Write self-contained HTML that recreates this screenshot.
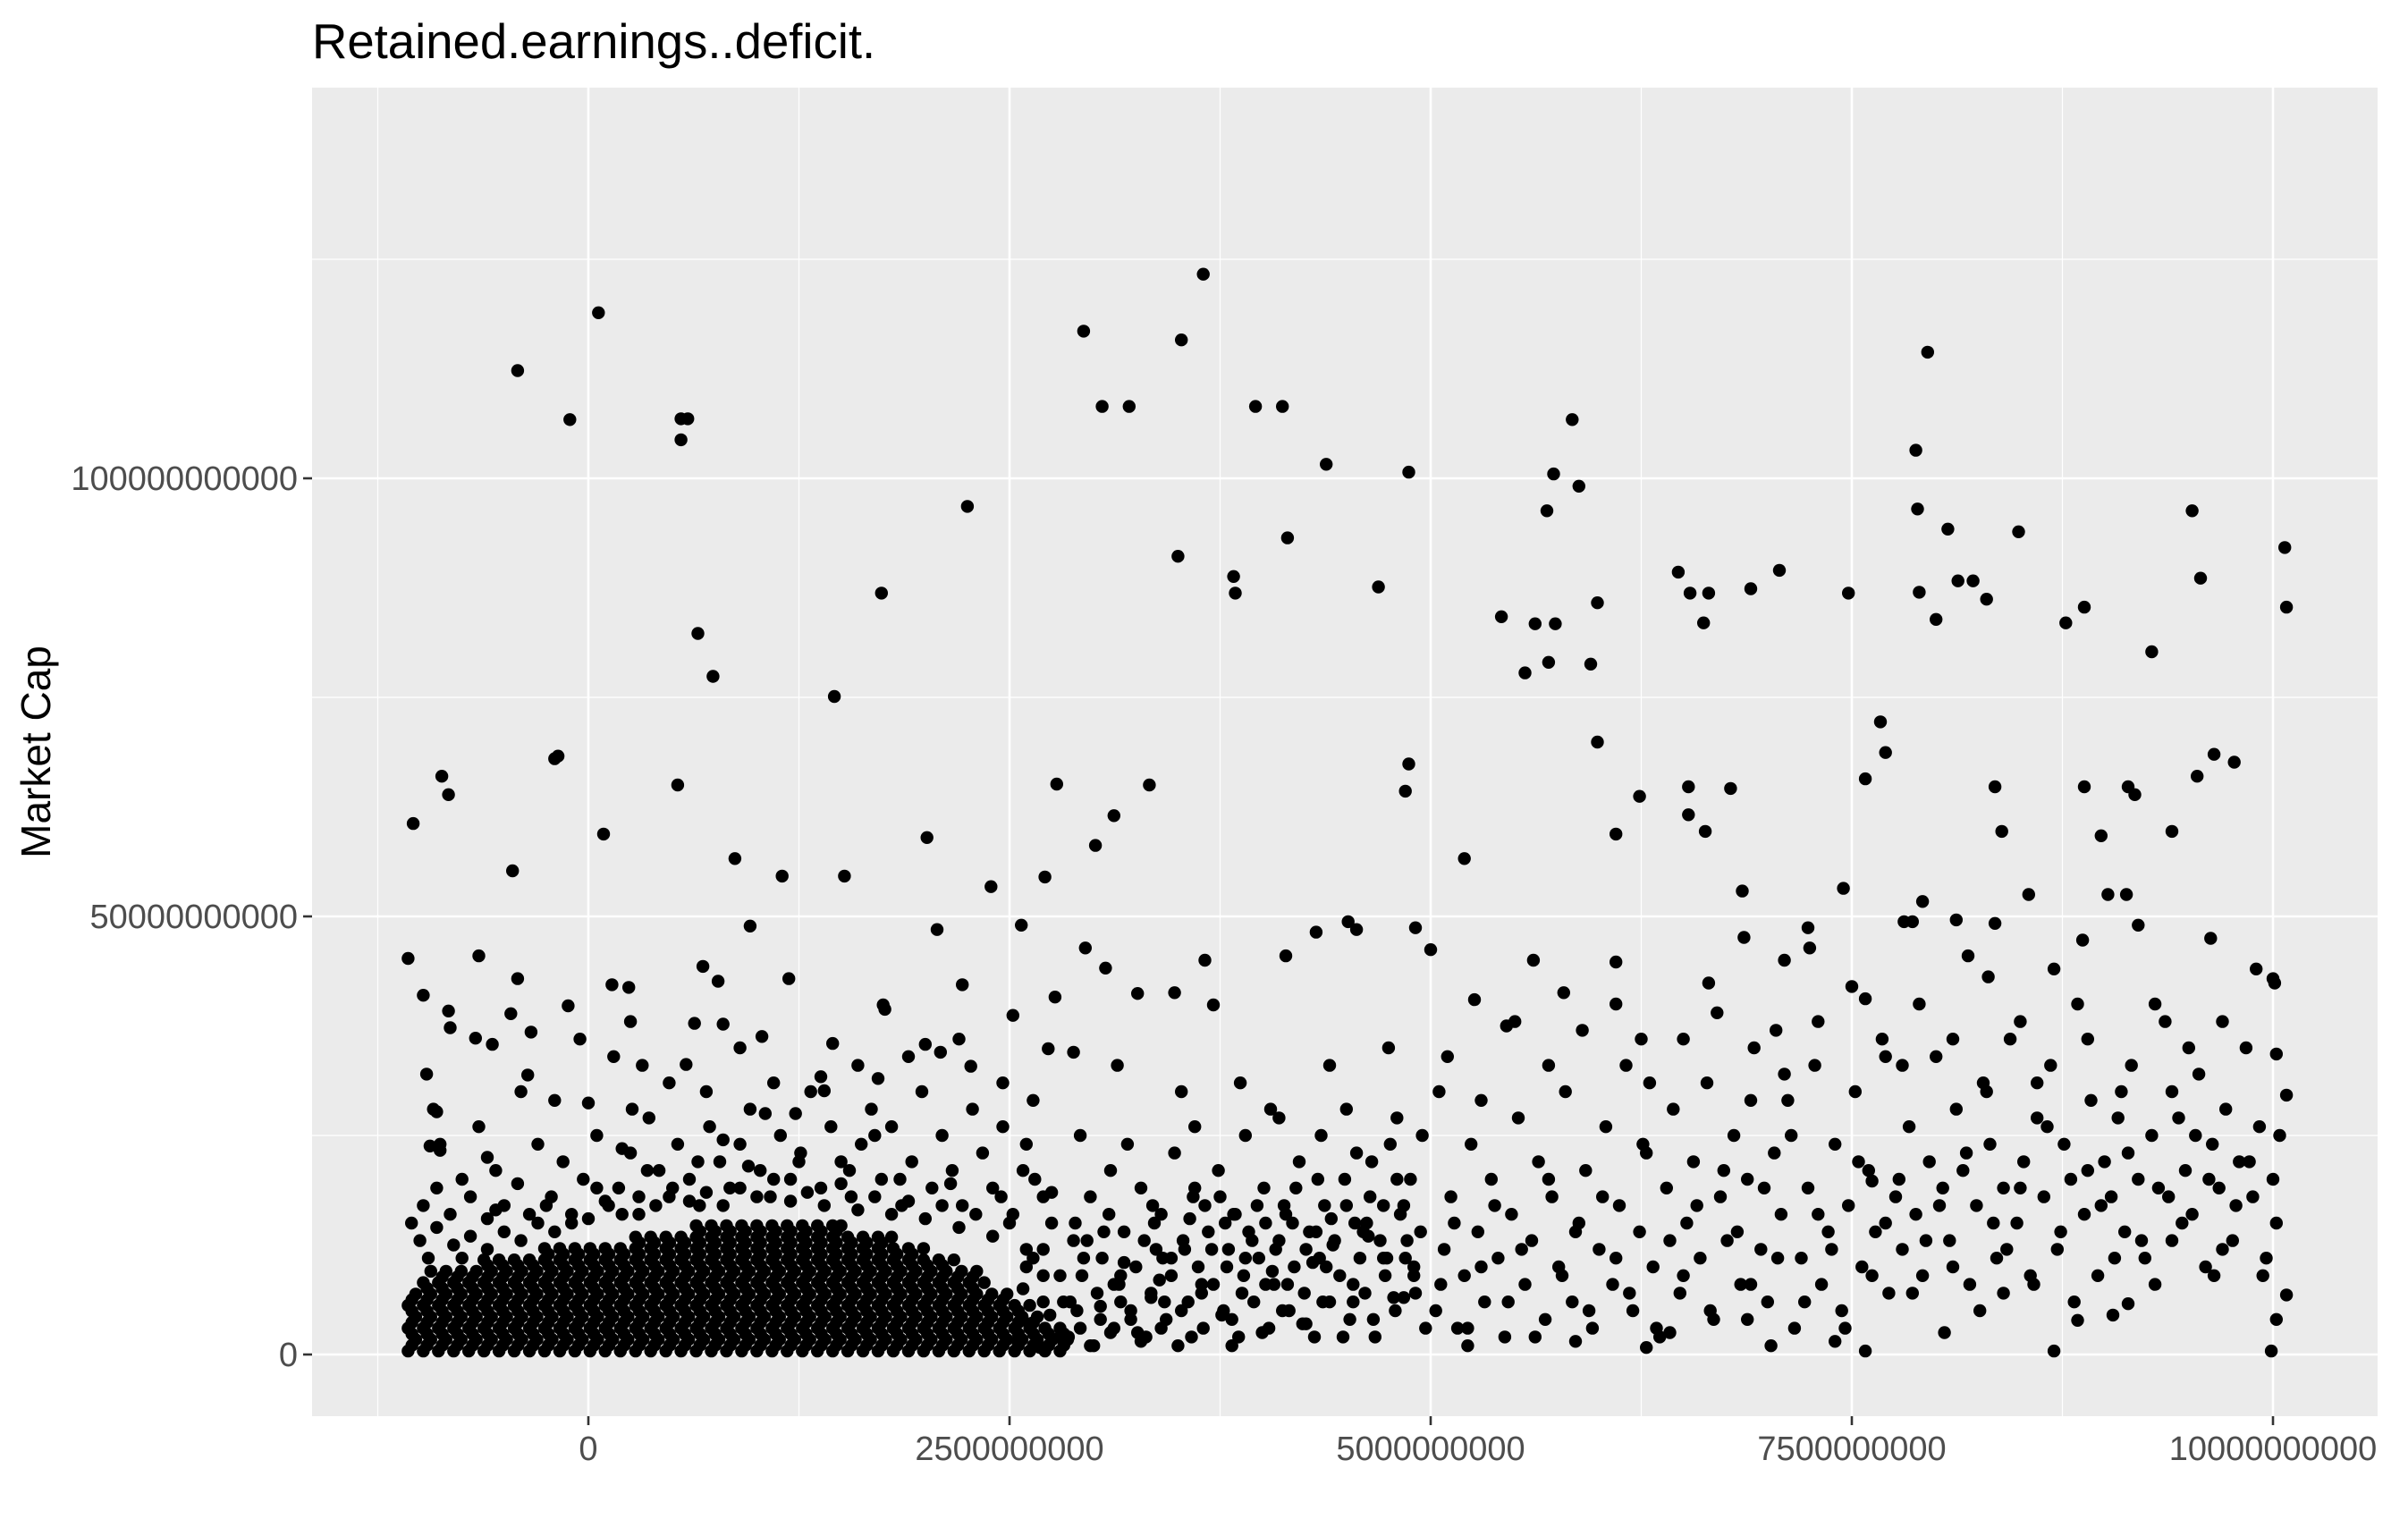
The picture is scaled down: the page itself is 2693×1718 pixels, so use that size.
<!DOCTYPE html>
<html>
<head>
<meta charset="utf-8">
<style>
html,body{margin:0;padding:0;background:#fff;}
svg{display:block;}
text{font-family:"Liberation Sans",Arial,sans-serif;}
</style>
</head>
<body>
<svg id="chart" width="2693" height="1718" viewBox="0 0 2693 1718" xmlns="http://www.w3.org/2000/svg">
  <rect x="0" y="0" width="2693" height="1718" fill="#ffffff"/>
  <text x="349" y="65" font-size="54.5" fill="#000">Retained.earnings..deficit.</text>
  <rect x="349" y="98" width="2310" height="1486" fill="#EBEBEB"/>
  <g id="grid"></g>
  <g id="points"></g>
  <g id="axes"></g>
  <text x="0" y="0" font-size="46" fill="#000" text-anchor="middle" transform="translate(56,841) rotate(-90)">Market Cap</text>
</svg>
<script>
// Values: retained earnings in units of 1e8, market cap in units of 1e9
const xTickValues = [0, 25, 50, 75, 100];
const xTickLabels = ["0", "2500000000", "5000000000", "7500000000", "10000000000"];
const xMinorValues = [-12.5, 12.5, 37.5, 62.5, 87.5];
const yTickValues = [0, 50, 100];
const yTickLabels = ["0", "50000000000", "100000000000"];
const yMinorValues = [25, 75, 125];

// Dense cluster rows (market cap level per row and retained earnings along row)
const denseRowY = [0.4, 1.7, 3.0, 4.3, 5.6, 6.9, 8.2, 9.5, 10.8, 12.1, 13.4, 14.7];
const denseRowX = [
 [-10.7,-9.8,-8.9,-8,-7.1,-6.2,-5.3,-4.4,-3.5,-2.6,-1.7,-0.8,0.1,1,1.9,2.8,3.7,4.6,5.5,6.4,7.3,8.2,9.1,10,10.9,11.8,12.7,13.6,14.5,15.4,16.3,17.2,18.1,19,19.9,20.8,21.7,22.6,23.5,24.4,25.3,26.2,27.1,28],
 [-10.25,-9.35,-8.45,-7.55,-6.65,-5.75,-4.85,-3.95,-3.05,-2.15,-1.25,-0.35,0.55,1.45,2.35,3.25,4.15,5.05,5.95,6.85,7.75,8.65,9.55,10.45,11.35,12.25,13.15,14.05,14.95,15.85,16.75,17.65,18.55,19.45,20.35,21.25,22.15,23.05,23.95,24.85,25.75,26.65,27.55,28.45],
 [-10.7,-9.8,-8.9,-8,-7.1,-6.2,-5.3,-4.4,-3.5,-2.6,-1.7,-0.8,0.1,1,1.9,2.8,3.7,4.6,5.5,6.4,7.3,8.2,9.1,10,10.9,11.8,12.7,13.6,14.5,15.4,16.3,17.2,18.1,19,19.9,20.8,21.7,22.6,23.5,24.4,25.3,26.2,27.1,28],
 [-10.25,-9.35,-8.45,-7.55,-6.65,-5.75,-4.85,-3.95,-3.05,-2.15,-1.25,-0.35,0.55,1.45,2.35,3.25,4.15,5.05,5.95,6.85,7.75,8.65,9.55,10.45,11.35,12.25,13.15,14.05,14.95,15.85,16.75,17.65,18.55,19.45,20.35,21.25,22.15,23.05,23.95,24.85,25.75,26.65],
 [-10.7,-9.8,-8.9,-8,-7.1,-6.2,-5.3,-4.4,-3.5,-2.6,-1.7,-0.8,0.1,1,1.9,2.8,3.7,4.6,5.5,6.4,7.3,8.2,9.1,10,10.9,11.8,12.7,13.6,14.5,15.4,16.3,17.2,18.1,19,19.9,20.8,21.7,22.6,23.5,24.4,25.3,26.2],
 [-10.25,-9.35,-8.45,-7.55,-6.65,-5.75,-4.85,-3.95,-3.05,-2.15,-1.25,-0.35,0.55,1.45,2.35,3.25,4.15,5.05,5.95,6.85,7.75,8.65,9.55,10.45,11.35,12.25,13.15,14.05,14.95,15.85,16.75,17.65,18.55,19.45,20.35,21.25,22.15,23.05,23.95,24.85],
 [-9.8,-8.9,-8,-7.1,-6.2,-5.3,-4.4,-3.5,-2.6,-1.7,-0.8,0.1,1,1.9,2.8,3.7,4.6,5.5,6.4,7.3,8.2,9.1,10,10.9,11.8,12.7,13.6,14.5,15.4,16.3,17.2,18.1,19,19.9,20.8,21.7,22.6,23.5],
 [-9.35,-8.45,-7.55,-6.65,-5.75,-4.85,-3.95,-3.05,-2.15,-1.25,-0.35,0.55,1.45,2.35,3.25,4.15,5.05,5.95,6.85,7.75,8.65,9.55,10.45,11.35,12.25,13.15,14.05,14.95,15.85,16.75,17.65,18.55,19.45,20.35,21.25,22.15,23.05],
 [-6.2,-5.3,-4.4,-3.5,-2.6,-1.7,-0.8,0.1,1,1.9,2.8,3.7,4.6,5.5,6.4,7.3,8.2,9.1,10,10.9,11.8,12.7,13.6,14.5,15.4,16.3,17.2,18.1,19,19.9,20.8,21.7],
 [-2.6,-1.7,-0.8,0.1,1,1.9,2.8,3.7,4.6,5.5,6.4,7.3,8.2,9.1,10,10.9,11.8,12.7,13.6,14.5,15.4,16.3,17.2,18.1,19,19.9],
 [2.8,3.7,4.6,5.5,6.4,7.3,8.2,9.1,10,10.9,11.8,12.7,13.6,14.5,15.4,16.3,17.2,18],
 [6.4,7.3,8.2,9.1,10,10.9,11.8,12.7,13.6,14.5,15]
];
// In-between rows of the dense cluster
const midRowY = [1.05, 2.35, 3.65, 4.95, 6.25, 7.55, 8.85, 10.15, 11.45, 12.75, 14.05];
const midRowX = [-10.475,-9.575,-8.675,-7.775,-6.875,-5.975,-5.075,-4.175,-3.275,-2.375,-1.475,-0.575,0.325,1.225,2.125,3.025,3.925,4.825,5.725,6.625,7.525,8.425,9.325,10.225,11.125,12.025,12.925,13.825,14.725,15.625,16.525,17.425,18.325,19.225,20.125,21.025,21.925,22.825,23.725,24.625,25.525,26.425,27.325,28.225];
const midRowXMin = [-10.5,-10.5,-10.5,-10.5,-10.5,-10,-9.5,-6.3,-2.7,2.7,6.3];
const midRowXMax = [28.3,28.3,26.7,26.3,25,23.6,23.1,21.8,20,18.1,15.1];

// Individual scattered companies
const retainedEarnings = [
-10.7,-10.4,-9.8,-8.7,-8.3,-8.3,-8.2,-9.6,-9.0,-9.4,-8.8,-6.5,-6.7,-5.7,-4.5,-4.2,-4.6,-4.2,-3.4,-3.6,-2,-1.8,-1.1,-1.2,0.6,0.9,0,1.4,2.4,2.5,5.3,5.5,5.9,5.5,6.5,7.4,6.8,7.7,6.3,5.8,8.0,8.7,9.6,10.3,11.5,11.9,10.5,14.6,15.2,13.8,14,17.4,17.5,17.6,17.2,20.1,20.7,20,20.9,22.2,22.5,22.7,23.9,25.2,25.7,27.1,27.8,27.7,27.3,28.8,29.4,29.5,30.1,30.5,30.7,31.2,32.1,32.6,33.3,34.8,35,35.2,36.5,36.6,37.1,38.3,38.4,39.6,41.2,41.5,41.4,43.2,43.8,45.1,45.6,46.9,48.7,48.7,48.5,49.1,50,52,52.6,54.2,55.6,56.2,56.1,56.9,57.3,57.4,57.9,58.4,58.8,57,59.5,59.9,59.9,61,61,62.4,64.7,65.4,65.3,65.3,66.3,66.5,66.2,66.5,67.8,68.5,69,70.7,68.6,71,72.4,72.5,74.8,74.5,75.8,76.7,77,75.8,76.2,75.8,78.1,78.6,78.9,79.5,79,78.8,79.2,80,80.7,81.3,82.2,81.2,81.9,83,83.5,83.9,83.5,83.1,84.9,85.5,87.7,88.8,88.8,88.7,89.8,90.2,91.3,91.4,91.8,92,92.8,94,95.2,95.7,95.5,96.3,96.5,97.7,100.7,100.8,100,100.1,100.8,100.2,100.8,99.9,87,88.4,91.4,
-10.5,-9.8,-9,-8.2,-7.5,-7,-6,-5.5,-5,-4.2,-3.5,-3,-2.2,-1.5,-1,-0.3,0.5,1.2,1.8,2.5,3,3.6,4.2,4.8,5.3,6,6.6,7.2,7.8,8.4,9,9.6,10.2,10.8,11.4,12,12.6,13.2,13.8,14.4,15,15.6,16.2,16.8,17.4,18,18.6,19.2,19.8,20.4,21,21.6,22.2,22.8,23.4,24,24.6,25.2,25.8,26.4,27,3.2,7,11,16,-2,-6.5,-8.8,1.5,9,14.5,24.6,-0.5,2.6,19,-4,4.8,12.3,22,-9.2,
28.5,29,29.3,29.6,30,30.2,30.5,30.9,31.2,31.5,31.8,32.2,32.5,32.8,33.1,33.4,33.7,34,34.3,34.6,35,35.3,35.6,35.9,36.2,36.5,36.8,37.1,37.4,37.7,38,38.3,38.6,38.9,39.2,39.5,39.8,40.1,40.4,40.7,41,41.3,41.6,41.9,42.2,42.5,42.8,43.1,43.4,43.7,44,44.3,44.6,44.9,45.2,45.5,45.8,46.1,46.4,46.7,47,47.3,47.6,47.9,48.2,48.5,48.8,49.1,49.4,49.7,29.8,31,32,33.5,34.8,36,37.5,39,40.5,42,43.5,45,46.5,48,49.5,30.4,32.6,34.1,36.4,38.2,40.2,42.6,44.1,46.3,48.4,28.9,31.6,33.9,35.7,37.9,39.7,41.5,43.3,45.4,47.2,49,29.2,35.2,38.7,44,47.5,50.5,31.4,41,26,27,27.5,26.5,
50.3,50.8,51.2,51.6,52,52.4,52.8,53.2,53.6,54,54.4,54.8,55.2,55.6,56,56.4,56.8,57.2,57.6,58,58.4,58.8,59.2,59.6,60,60.4,60.8,61.2,61.6,62,62.4,62.8,63.2,63.6,64,64.4,64.8,65.2,65.6,66,66.4,66.8,67.2,67.6,68,68.4,68.8,69.2,69.6,70,70.4,70.8,71.2,71.6,72,72.4,72.8,73.2,73.6,74,74.4,74.8,75.2,75.6,76,76.4,76.8,77.2,77.6,78,78.4,78.8,79.2,79.6,80,80.4,80.8,81.2,81.6,82,82.4,82.8,83.2,83.6,84,84.4,84.8,85.2,85.6,86,86.4,86.8,87.2,87.6,88,88.4,88.8,89.2,89.6,90,90.4,90.8,91.2,91.6,92,92.4,92.8,93.2,93.6,94,94.4,94.8,95.2,95.6,96,96.4,96.8,97.2,97.6,98,98.4,98.8,99.2,99.6,100,100.4,51,53,55,57,59,61,63,65,67,69,71,73,75,77,79,81,83,85,87,89,91,93,95,97,99,54.5,62.5,70.5,78,86,94,52.2,58.6,64.2,70.2,62.8,68.8,74,80.5,84,90.5,96.5,100.2,
-10,-9,-8,-7,-6,-5,-4,-3,-2,-1,0,1,2,3,4,5,6,7,8,9,10,11,12,13,14,15,16,17,18,19,20,21,22,23,24,25,26,27,28,-9.5,-7.5,-5.5,-2.5,0.5,3.5,6.5,9.5,12.5,15.5,18.5,21.5,24.5,27.5,26,-6,2,8,17,
25.5,26.2,26.8,27.4,28,28.6,29.2,29.8,30.4,31,31.6,32.2,32.8,33.4,34,34.6,35.2,35.8,36.4,37,37.6,38.2,38.8,39.4,40,40.6,41.2,41.8,42.4,43,43.6,44.2,44.8,45.4,46,46.6,47.2,47.8,48.4,49,25.8,27,28.2,29.4,30.6,31.8,33,34.2,35.4,36.6,37.8,39,40.2,41.4,42.6,43.8,45,46.2,47.4,48.6,26.4,28.8,31.2,33.6,36,38.4,40.8,43.2,45.6,48,
50.6,51.4,52.2,53,53.8,54.6,55.4,56.2,57,57.8,58.6,59.4,60.2,61,61.8,62.6,63.4,64.2,65,65.8,66.6,67.4,68.2,69,69.8,70.6,71.4,72.2,73,73.8,74.6,75.4,76.2,77,77.8,78.6,79.4,80.2,81,81.8,82.6,83.4,84.2,85,85.8,86.6,87.4,88.2,89,89.8,90.6,91.4,92.2,93,93.8,94.6,95.4,96.2,97,97.8,98.6,99.4,100.2
];
const marketCap = [
45.2,60.6,41,66,63.9,39.2,37.3,32,27.7,23.8,23.3,45.5,36.1,35.4,55.2,112.3,38.9,42.9,36.8,31.9,68,68.3,106.7,39.8,118.9,59.4,28.7,42.2,41.9,38,65,106.8,106.8,104.4,82.3,77.4,44.3,42.6,37.8,33.1,37.7,56.6,48.9,36.3,54.6,42.9,27.5,75.1,54.6,31.7,30.1,86.9,39.9,39.4,31.5,59,48.5,35.4,34.5,42.2,96.8,32.9,53.4,38.7,49,54.5,65.1,40.8,34.9,34.5,116.8,46.4,58.1,108.2,44.1,61.5,108.2,41.2,65,41.3,91.1,115.8,123.3,45,39.9,88.8,86.9,108.2,108.2,93.2,45.5,48.2,101.6,49.4,48.5,87.6,100.7,67.4,64.3,48.7,46.2,56.6,40.5,84.2,77.8,83.4,45,96.3,100.5,83.4,41.3,106.7,99.1,79,78.8,85.8,69.9,59.4,44.8,63.7,89.3,86.9,64.8,61.6,59.7,86.9,83.5,42.4,64.6,52.9,87.4,89.5,47.6,45,48.7,46.4,86.9,53.2,65.7,72.2,68.7,0.4,19.8,40.6,49.4,49.4,96.5,114.4,87,103.2,51.7,83.9,94.2,88.3,88.3,49.6,45.5,86.2,64.8,59.7,49.2,43.1,93.9,52.5,83.5,85.3,64.8,47.3,59.2,52.5,52.5,64.8,63.9,49,80.2,59.7,96.3,88.6,66,47.5,68.5,67.6,92.1,85.3,42.9,42.4,29.6,34.3,6.8,0.4,0.4,3.9,5.8,
15,17,19,16,20,18,15.5,21,17,19.5,16,24,18,22,15,20,25,17,19,23,16,27,21,18,24,20,17,26,22,19,24,28,21,18,25,20,23,30,19,26,22,18,24,28,20,26,17,22,30,19,25,21,17,28,23,19,26,16,21,29,18,33,30,31,33,29,26,24,34,35,35.5,31,36,28,34,30,31,27.5,36,28,
2,5,9,13,1,7,11,16,3,8,14,5,10,19,2,7,12,16,4,9,1,13,6,18,10,3,14,8,21,5,12,16,2,9,14,6,11,19,3,8,13,17,5,10,22,7,14,2,11,17,6,13,9,20,4,15,11,7,18,2,13,9,24,5,16,11,20,7,14,3,18,21,24,17,23,26,18,25,28,19,25,28,22,27,25,4,2.5,11,7,4,15,3.5,15.5,13.5,6.5,15,6,8.5,15.5,10,17,8,20,6,17,10,25,30,31,33,35,30,33,27,12,6,15,20,
5,12,18,3,9,24,14,6,20,11,2,16,27,8,13,22,4,18,10,30,6,15,21,3,12,26,8,17,33,5,14,23,10,2,19,28,7,15,22,11,31,4,18,13,25,8,20,35,12,6,23,16,29,3,11,19,33,8,14,24,5,17,30,10,21,14,36,7,18,12,26,16,9,22,34,19,13,28,21,8,17,31,24,11,19,36,15,22,9,27,18,33,12,24,20,40,16,29,9,22,18,27,14,33,20,11,25,19,38,13,27,21,16,32,10,24,19,28,13,22,35,18,26,11,20,25,34,29,38,33,37,40,31,36,39,29,32,38,42,34,40,36,30,38,44,36,30,40,35,38,44,37.5,36,37,33,31,30,1,1.5,2.5,1,0.8,4,1.5,2.5,7,4.5,9,4,
13,14.5,12.5,13.5,12,14,13,15,14,16,15.5,17.5,16,18,17,19,17.5,18.5,17,19,18,20,17.5,18.5,17,19.5,16.5,18,16,17.5,15.5,17,14.5,16,13.5,15,10,12,9,11,11,16.5,17,19,21,22,21.5,22,21,20,19.5,18,18.5,24,22.5,23.5,24.5,25,
1.5,3.5,0.8,4.5,2,6,3,1,5.5,2.5,9,4,1.5,6.5,3,11,5,2,8,12,4.5,1,7,13,2.5,9.5,5,15,3.5,10.5,6,12.5,2,8,14,4,11,6.5,17,9,7.5,9,6,11,14,10.5,13,6,12,17,15,11,8,16,12,10,17,15,11,13,11,13,8,15,19,16,12,14,23,20,
8,15,3,10,17,6,12,2,20,9,14,5,18,11,7,24,3,13,9,17,5,21,14,8,19,11,25,6,16,12,3,22,9,15,20,7,13,17,10,23,5,15,12,19,8,26,14,6,21,17,11,23,13,8,18,15,25,20,12,17,22,9,15
];

const NS = "http://www.w3.org/2000/svg";
const panel = {left: 349, right: 2659, top: 98, bottom: 1584};
function xScale(v){ return 658 + v * 18.84; }
function yScale(v){ return 1515 - v * 9.8; }

const grid = document.getElementById('grid');
const axes = document.getElementById('axes');
const pts = document.getElementById('points');

function line(parent, x1, y1, x2, y2, stroke, w, name){
  const l = document.createElementNS(NS, 'line');
  l.setAttribute('x1', x1); l.setAttribute('y1', y1);
  l.setAttribute('x2', x2); l.setAttribute('y2', y2);
  l.setAttribute('stroke', stroke); l.setAttribute('stroke-width', w);
  
  
  parent.appendChild(l);
  return l;
}
function label(parent, x, y, str, anchor, name){
  const t = document.createElementNS(NS, 'text');
  t.setAttribute('x', x); t.setAttribute('y', y);
  t.setAttribute('font-size', '38');
  t.setAttribute('fill', '#4D4D4D');
  t.setAttribute('text-anchor', anchor);
  t.textContent = str;
  
  
  parent.appendChild(t);
}

xMinorValues.forEach(v => { const x = xScale(v); if (x > panel.left && x < panel.right) line(grid, x, panel.top, x, panel.bottom, '#fff', 1.2, 'x-minor-gridline'); });
yMinorValues.forEach(v => { const y = yScale(v); if (y > panel.top && y < panel.bottom) line(grid, panel.left, y, panel.right, y, '#fff', 1.2, 'y-minor-gridline'); });
xTickValues.forEach(v => line(grid, xScale(v), panel.top, xScale(v), panel.bottom, '#fff', 2.6, 'x-major-gridline'));
yTickValues.forEach(v => line(grid, panel.left, yScale(v), panel.right, yScale(v), '#fff', 2.6, 'y-major-gridline'));

xTickValues.forEach((v, i) => {
  line(axes, xScale(v), panel.bottom, xScale(v), panel.bottom + 10, '#333', 2.6, 'x-tick');
  label(axes, xScale(v), 1633, xTickLabels[i], 'middle', 'x-tick-label');
});
yTickValues.forEach((v, i) => {
  line(axes, panel.left - 10, yScale(v), panel.left, yScale(v), '#333', 2.6, 'y-tick');
  label(axes, panel.left - 16, yScale(v) + 13, yTickLabels[i], 'end', 'y-tick-label');
});

function dot(xv, yv){
  const c = document.createElementNS(NS, 'circle');
  c.setAttribute('cx', xScale(xv).toFixed(1));
  c.setAttribute('cy', yScale(yv).toFixed(1));
  c.setAttribute('r', 7.2);
  c.setAttribute('fill', '#000');
  
  
  pts.appendChild(c);
}
denseRowY.forEach((yv, r) => denseRowX[r].forEach(xv => dot(xv, yv)));
midRowY.forEach((yv, r) => midRowX.forEach(xv => { if (xv >= midRowXMin[r] && xv <= midRowXMax[r]) dot(xv, yv); }));
const n = Math.min(retainedEarnings.length, marketCap.length);
for (let i = 0; i < n; i++) dot(retainedEarnings[i], marketCap[i]);
</script>
</body>
</html>
